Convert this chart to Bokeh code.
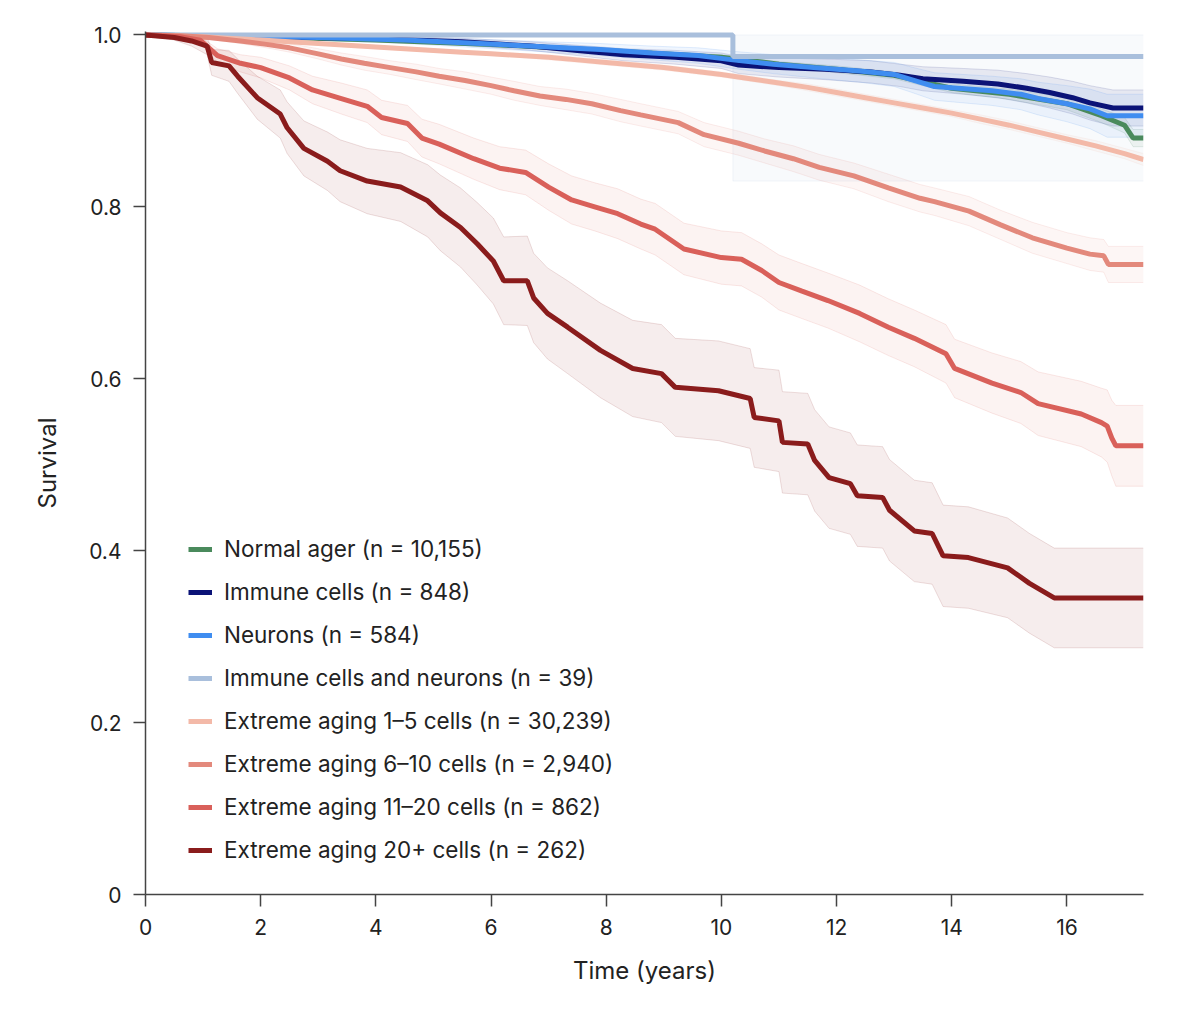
from bokeh.plotting import figure
from bokeh.models import Range1d, FixedTicker, Legend, LegendItem
from bokeh.embed import file_html
from bokeh.resources import INLINE

T_END = 17.33

labels = [
    "Normal ager (n = 10,155)",
    "Immune cells (n = 848)",
    "Neurons (n = 584)",
    "Immune cells and neurons (n = 39)",
    "Extreme aging 1–5 cells (n = 30,239)",
    "Extreme aging 6–10 cells (n = 2,940)",
    "Extreme aging 11–20 cells (n = 862)",
    "Extreme aging 20+ cells (n = 262)",
]
colors = ["#4a8a5c", "#0b1377", "#3f8df0", "#a9bfdc",
          "#f3b9a8", "#e3897c", "#d9605a", "#8a1c1c"]

# Normal ager
normal_t = [0, 2, 4, 6, 8, 10, 11, 12, 13, 14, 15, 16, 16.6, 17.0, 17.15]
normal_s = [1.0, 0.998, 0.994, 0.989, 0.982, 0.974, 0.966, 0.96, 0.953, 0.938, 0.931, 0.92, 0.906, 0.895, 0.88]
normal_hw = [0, 0.001, 0.001, 0.002, 0.002, 0.003, 0.003, 0.004, 0.004, 0.005, 0.006, 0.007, 0.008, 0.009, 0.01]

# Immune cells
immune_t = [0, 3.9, 5.5, 6.7, 7.5, 8.3, 9.2, 10.0, 10.3, 11.0, 11.8, 12.6, 13.1, 13.5, 14.2, 14.8, 15.3, 15.7, 16.1, 16.4, 16.8]
immune_s = [1.0, 0.996, 0.992, 0.987, 0.982, 0.977, 0.974, 0.97, 0.965, 0.962, 0.96, 0.957, 0.953, 0.949, 0.946, 0.943, 0.938, 0.933, 0.927, 0.921, 0.915]
immune_hw = [0, 0.003, 0.004, 0.005, 0.006, 0.007, 0.008, 0.009, 0.01, 0.011, 0.012, 0.013, 0.013, 0.014, 0.015, 0.016, 0.017, 0.018, 0.019, 0.02, 0.021]

# Neurons
neuron_t = [0, 3.0, 4.5, 5.8, 7.0, 7.9, 8.8, 9.6, 10.2, 10.9, 11.6, 12.4, 13.0, 13.4, 13.7, 14.7, 15.2, 15.5, 16.0, 16.4, 16.7]
neuron_s = [1.0, 0.997, 0.994, 0.99, 0.986, 0.983, 0.979, 0.976, 0.971, 0.966, 0.962, 0.958, 0.954, 0.946, 0.94, 0.935, 0.931, 0.926, 0.92, 0.914, 0.906]
neuron_hw = [0, 0.003, 0.004, 0.005, 0.006, 0.007, 0.008, 0.009, 0.01, 0.011, 0.012, 0.013, 0.014, 0.015, 0.016, 0.017, 0.018, 0.019, 0.021, 0.023, 0.025]

# Immune cells and neurons (single step at ~10.2 years)
both_t = [0, 10.2, 10.2]
both_s = [1.0, 1.0, 0.975]
both_lo = [1.0, 1.0, 0.83]
both_hi = [1.0, 1.0, 1.0]

# Extreme aging 1-5 cells
ea1_t = [0, 0.5, 1, 1.5, 2, 2.5, 3, 3.5, 4, 4.5, 5, 5.5, 6, 6.5, 7, 7.5, 8, 8.5, 9, 9.5,
         10, 10.5, 11, 11.5, 12, 12.5, 13, 13.5, 14, 14.5, 15, 15.5, 16, 16.5, 17, 17.33]
ea1_s = [1.0, 0.999, 0.998, 0.996, 0.994, 0.992, 0.99, 0.988, 0.986, 0.984, 0.982, 0.98, 0.978, 0.976,
         0.974, 0.971, 0.968, 0.965, 0.962, 0.958, 0.954, 0.949, 0.944, 0.939, 0.933, 0.927, 0.921,
         0.915, 0.909, 0.902, 0.895, 0.887, 0.879, 0.871, 0.862, 0.855]
ea1_hw = [0, 0, 0.001, 0.001, 0.001, 0.001, 0.001, 0.002, 0.002, 0.002, 0.002, 0.002, 0.002, 0.002,
          0.003, 0.003, 0.003, 0.003, 0.003, 0.003, 0.003, 0.003, 0.003, 0.004, 0.004, 0.004, 0.004,
          0.004, 0.004, 0.005, 0.005, 0.005, 0.005, 0.006, 0.006, 0.007]

# Extreme aging 6-10 cells
ea2_t = [0, 0.6, 1.1, 1.65, 2.1, 2.5, 3.0, 3.4, 3.8, 4.25, 4.7, 5.1, 5.55, 6.0, 6.4, 6.85, 7.3, 7.75,
         8.25, 8.6, 9.25, 9.7, 10.3, 10.75, 11.25, 11.7, 12.3, 12.9, 13.45, 13.7, 14.3, 14.85, 15.4,
         16.0, 16.4, 16.64, 16.72]
ea2_s = [1.0, 0.999, 0.997, 0.993, 0.989, 0.985, 0.978, 0.972, 0.967, 0.962, 0.957, 0.952, 0.947,
         0.941, 0.935, 0.929, 0.925, 0.92, 0.912, 0.907, 0.898, 0.884, 0.874, 0.865, 0.856, 0.846,
         0.836, 0.822, 0.81, 0.806, 0.795, 0.779, 0.764, 0.752, 0.745, 0.743, 0.733]
ea2_hw = [0, 0.001, 0.002, 0.003, 0.004, 0.005, 0.006, 0.007, 0.008, 0.008, 0.009, 0.009, 0.01,
          0.01, 0.011, 0.011, 0.012, 0.012, 0.013, 0.013, 0.013, 0.014, 0.014, 0.014, 0.015, 0.015,
          0.015, 0.016, 0.016, 0.016, 0.017, 0.017, 0.018, 0.018, 0.019, 0.019, 0.021]

# Extreme aging 11-20 cells
ea3_t = [0, 0.6, 0.95, 1.1, 1.25, 1.65, 2.0, 2.5, 2.9, 3.4, 3.85, 4.1, 4.55, 4.8, 5.1, 5.7, 6.15,
         6.6, 7.0, 7.4, 7.8, 8.2, 8.6, 8.85, 9.35, 10.0, 10.35, 10.7, 11.0, 11.4, 11.85, 12.4, 12.9,
         13.35, 13.9, 14.05, 14.7, 15.2, 15.5, 16.25, 16.6, 16.7, 16.78, 16.85]
ea3_s = [1.0, 0.998, 0.994, 0.985, 0.976, 0.967, 0.962, 0.95, 0.936, 0.926, 0.917, 0.904, 0.897,
         0.88, 0.873, 0.856, 0.845, 0.84, 0.823, 0.808, 0.8, 0.792, 0.78, 0.774, 0.751, 0.741, 0.739,
         0.726, 0.712, 0.702, 0.691, 0.676, 0.66, 0.647, 0.629, 0.612, 0.595, 0.584, 0.571, 0.559,
         0.549, 0.545, 0.531, 0.522]
ea3_hw = [0, 0.002, 0.004, 0.006, 0.008, 0.01, 0.012, 0.014, 0.016, 0.018, 0.019, 0.02, 0.021,
          0.022, 0.023, 0.024, 0.025, 0.026, 0.027, 0.028, 0.028, 0.029, 0.029, 0.03, 0.03, 0.031,
          0.031, 0.031, 0.032, 0.032, 0.032, 0.033, 0.033, 0.033, 0.034, 0.034, 0.035, 0.036, 0.037,
          0.038, 0.04, 0.042, 0.044, 0.047]

# Extreme aging 20+ cells
ea4_t = [0, 0.5, 0.8, 1.07, 1.15, 1.45, 1.6, 1.94, 2.34, 2.46, 2.75, 3.16, 3.38, 3.85, 4.43, 4.9,
         5.12, 5.47, 5.76, 6.04, 6.22, 6.63, 6.74, 6.98, 7.33, 7.9, 8.46, 8.96, 9.2, 9.95, 10.5,
         10.57, 11.0, 11.06, 11.5, 11.62, 11.87, 12.24, 12.36, 12.8, 12.92, 13.35, 13.66, 13.85,
         14.29, 14.97, 15.35, 15.78]
ea4_s = [1.0, 0.997, 0.993, 0.987, 0.968, 0.964, 0.952, 0.927, 0.908, 0.892, 0.868, 0.853, 0.842,
         0.83, 0.823, 0.807, 0.793, 0.776, 0.757, 0.737, 0.714, 0.714, 0.694, 0.676, 0.66, 0.633,
         0.612, 0.606, 0.59, 0.586, 0.577, 0.555, 0.551, 0.526, 0.524, 0.505, 0.485, 0.478, 0.464,
         0.462, 0.447, 0.423, 0.42, 0.394, 0.392, 0.38, 0.362, 0.345]
ea4_hw = [0, 0.003, 0.006, 0.01, 0.015, 0.018, 0.02, 0.025, 0.028, 0.03, 0.032, 0.034, 0.036,
          0.038, 0.04, 0.042, 0.044, 0.046, 0.048, 0.05, 0.051, 0.052, 0.052, 0.053, 0.054, 0.055,
          0.056, 0.057, 0.057, 0.058, 0.058, 0.058, 0.059, 0.059, 0.059, 0.059, 0.059, 0.059, 0.059,
          0.059, 0.059, 0.059, 0.059, 0.059, 0.059, 0.058, 0.058, 0.058]

x_ticks = [0, 2, 4, 6, 8, 10, 12, 14, 16]
y_ticks = [0, 0.2, 0.4, 0.6, 0.8, 1.0]
y_tick_labels = ["0", "0.2", "0.4", "0.6", "0.8", "1.0"]


def extend(t, v):
    t = list(t)
    v = list(v)
    if t[-1] < T_END:
        t.append(T_END)
        v.append(v[-1])
    return t, v


series = []
for t, s, hw in [(normal_t, normal_s, normal_hw), (immune_t, immune_s, immune_hw),
                 (neuron_t, neuron_s, neuron_hw)]:
    series.append((t, s, [a - b for a, b in zip(s, hw)], [min(1.0, a + b) for a, b in zip(s, hw)]))
series.append((both_t, both_s, both_lo, both_hi))
for t, s, hw in [(ea1_t, ea1_s, ea1_hw), (ea2_t, ea2_s, ea2_hw), (ea3_t, ea3_s, ea3_hw),
                 (ea4_t, ea4_s, ea4_hw)]:
    series.append((t, s, [a - b for a, b in zip(s, hw)], [min(1.0, a + b) for a, b in zip(s, hw)]))

FONT = "Inter"
TXT = "#222222"

p = figure(width=1192, height=1018, output_backend="svg", toolbar_location=None,
           x_range=Range1d(0, T_END), y_range=Range1d(0, 1.004),
           min_border_left=145, min_border_right=49, min_border_top=31, min_border_bottom=124)
p.outline_line_color = None
p.xgrid.visible = False
p.ygrid.visible = False
p.background_fill_color = "white"

# confidence bands
for (t, s, lo, hi), c in zip(series, colors):
    te, loe = extend(t, lo)
    _, hie = extend(t, hi)
    p.varea(x=te, y1=loe, y2=hie, fill_color=c, fill_alpha=0.08)
    p.line(te, loe, line_color=c, line_alpha=0.14, line_width=1)
    p.line(te, hie, line_color=c, line_alpha=0.14, line_width=1)

# survival curves
renderers = []
for (t, s, lo, hi), c in zip(series, colors):
    te, se = extend(t, s)
    r = p.line(te, se, line_color=c, line_width=5)
    renderers.append(r)

legend = Legend(items=[LegendItem(label=l, renderers=[r]) for l, r in zip(labels, renderers)],
                location=(43, 31))
legend.background_fill_alpha = 0
legend.border_line_alpha = 0
legend.padding = 0
legend.margin = 0
legend.glyph_width = 24
legend.glyph_height = 24
legend.label_height = 24
legend.spacing = 16
legend.label_standoff = 12
legend.label_text_font = FONT
legend.label_text_font_size = "22.5px"
legend.label_text_color = TXT
p.add_layout(legend, "center")

p.xaxis.ticker = FixedTicker(ticks=x_ticks)
p.yaxis.ticker = FixedTicker(ticks=y_ticks)
p.yaxis.major_label_overrides = {v: l for v, l in zip(y_ticks, y_tick_labels)}
p.xaxis.axis_label = "Time (years)"
p.yaxis.axis_label = "Survival"
for ax in (p.xaxis, p.yaxis):
    ax.axis_line_color = "#444444"
    ax.axis_line_width = 1.5
    ax.major_tick_line_color = "#444444"
    ax.major_tick_line_width = 1.5
    ax.major_tick_out = 12
    ax.major_tick_in = 0
    ax.minor_tick_out = 0
    ax.minor_tick_in = 0
    ax.major_label_text_font = FONT
    ax.major_label_text_font_size = "21px"
    ax.major_label_text_color = TXT
    ax.axis_label_text_font = FONT
    ax.axis_label_text_font_size = "24px"
    ax.axis_label_text_font_style = "normal"
    ax.axis_label_text_color = TXT
p.xaxis.major_label_standoff = 12
p.yaxis.major_label_standoff = 12
p.xaxis.axis_label_standoff = 18
p.yaxis.axis_label_standoff = 24

open("out.html", "w").write(file_html(p, INLINE))
